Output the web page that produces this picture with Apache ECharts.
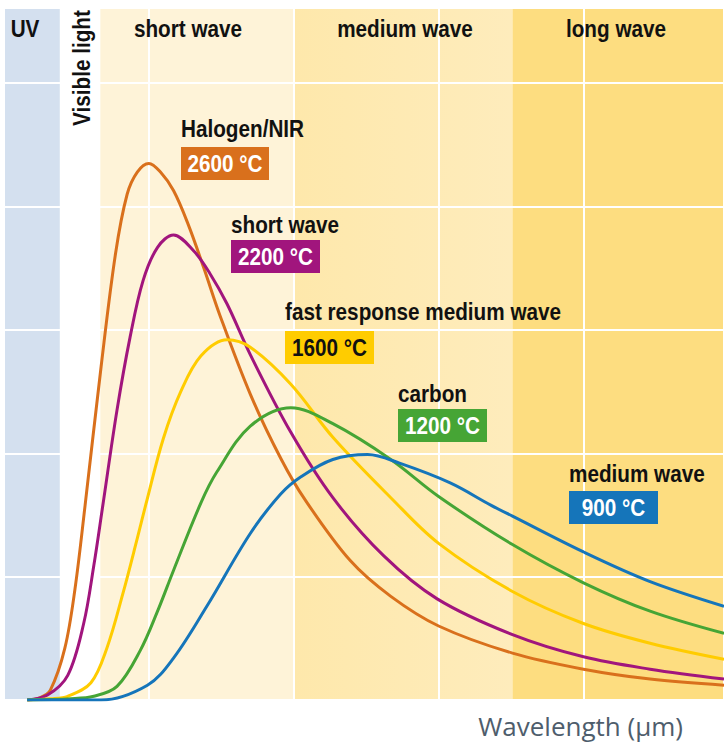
<!DOCTYPE html>
<html>
<head>
<meta charset="utf-8">
<script src="https://cdn.jsdelivr.net/npm/echarts@6.0.0/dist/echarts.min.js"></script>
<style>
html, body { margin: 0; padding: 0; background: #fff; }
#chart { width: 724px; height: 744px; }
</style>
</head>
<body>
<div id="chart"></div>
<script>
// wavelength in µm, relative intensity
var halogen = [[0.16,0],[0.25,0.02],[0.32,0.08],[0.42,0.42],[0.49,0.90],[0.56,1.58],[0.67,2.70],[0.77,3.62],[0.85,4.10],[0.92,4.28],[1.0,4.35],[1.08,4.28],[1.17,4.13],[1.27,3.86],[1.38,3.50],[1.49,3.12],[1.70,2.48],[1.91,1.96],[2.08,1.62],[2.39,1.13],[2.67,0.84],[3.0,0.60],[3.51,0.38],[4.0,0.25],[4.46,0.17],[4.97,0.12]];
var shortWave = [[0.16,0],[0.30,0.04],[0.44,0.20],[0.55,0.62],[0.62,1.09],[0.68,1.56],[0.78,2.35],[0.87,2.94],[0.96,3.40],[1.06,3.67],[1.17,3.77],[1.31,3.64],[1.42,3.46],[1.54,3.21],[1.70,2.80],[1.98,2.17],[2.27,1.64],[2.62,1.17],[2.99,0.82],[3.51,0.53],[4.0,0.35],[4.46,0.25],[4.97,0.17]];
var fastMedium = [[0.16,0],[0.32,0.01],[0.44,0.03],[0.60,0.14],[0.71,0.42],[0.82,0.86],[0.92,1.31],[0.98,1.59],[1.10,2.12],[1.22,2.50],[1.36,2.79],[1.54,2.92],[1.70,2.86],[1.98,2.56],[2.27,2.13],[2.67,1.64],[3.0,1.27],[3.51,0.88],[4.0,0.62],[4.46,0.46],[4.97,0.33]];
var carbon = [[0.16,0],[0.46,0.01],[0.62,0.03],[0.78,0.11],[0.94,0.40],[1.06,0.72],[1.17,1.05],[1.36,1.60],[1.47,1.85],[1.70,2.22],[1.98,2.37],[2.27,2.24],[2.67,1.95],[3.0,1.65],[3.51,1.26],[4.0,0.95],[4.46,0.72],[4.97,0.54]];
var mediumWave = [[0.16,0],[0.67,0],[0.99,0.12],[1.17,0.34],[1.40,0.76],[1.70,1.35],[1.91,1.67],[2.05,1.81],[2.27,1.95],[2.51,1.99],[2.73,1.92],[3.08,1.76],[3.36,1.58],[3.51,1.49],[4.0,1.20],[4.46,0.96],[4.97,0.76]];

var curveNames = ['Halogen/NIR', 'short wave', 'fast response medium wave', 'carbon', 'medium wave'];
var curveTemps = ['2600 °C', '2200 °C', '1600 °C', '1200 °C', '900 °C'];
var curveData = [halogen, shortWave, fastMedium, carbon, mediumWave];

// spectral ranges, µm
var bandNames = ['UV', 'short wave', 'medium wave', 'long wave'];
var bandFrom = [0, 0.665, 2.0, 3.51];
var bandTo = [0.385, 2.0, 3.51, 4.97];

var colors = ['#d9701c', '#a1157d', '#ffcc00', '#46a535', '#1575ba'];
var tagText = ['#fff', '#fff', '#111', '#fff', '#fff'];
var bandColors = [
  '#d4e0ef',
  '#fef3d8',
  {type: 'linear', x: 0, y: 0, x2: 1, y2: 0, colorStops: [{offset: 0, color: '#fee8ab'}, {offset: 1, color: '#feecbc'}]},
  '#fddd80'
];

var FONT = 'bold 23px "Liberation Sans", Arial, sans-serif';
var SQUEEZE = 0.9;

var chart = echarts.init(document.getElementById('chart'), null, {renderer: 'svg'});

var series = [{
  type: 'line',
  data: [],
  z: 1,
  silent: true,
  markArea: {
    silent: true,
    label: {show: false},
    data: bandNames.map(function (n, i) {
      return [{xAxis: bandFrom[i], itemStyle: {color: bandColors[i]}}, {xAxis: bandTo[i]}];
    })
  }
}];
curveData.forEach(function (d, i) {
  series.push({
    name: curveNames[i],
    type: 'line',
    data: d,
    z: 5 + i,
    smooth: 0.35,
    showSymbol: false,
    lineStyle: {color: colors[i], width: 3},
    itemStyle: {color: colors[i]}
  });
});

// annotation layout (pixels)
var headX = [25, 188, 405, 616];
var capX = [181, 231, 285, 398, 569];
var capY = [129, 225, 312, 394, 474];
var boxY = [147, 240, 331, 409, 491];
var boxW = [88, 89, 89, 89, 89];

function txt(x, y, s, fill, align, extra) {
  var el = {
    type: 'text', z: 101, x: x, y: y, scaleX: SQUEEZE,
    style: {text: s, fill: fill, font: FONT, align: align, verticalAlign: 'middle'}
  };
  for (var k in extra) el[k] = extra[k];
  return el;
}

var graphics = [];
bandNames.forEach(function (n, i) {
  graphics.push(txt(headX[i], 29, n, '#111', 'center'));
});
graphics.push(txt(82, 68, 'Visible light', '#111', 'center', {rotation: Math.PI / 2}));
curveNames.forEach(function (n, i) {
  graphics.push(txt(capX[i], capY[i], n, '#111', 'left'));
  graphics.push({
    type: 'rect', z: 100, shape: {x: capX[i], y: boxY[i], width: boxW[i], height: 33},
    style: {fill: colors[i]}
  });
  graphics.push(txt(capX[i] + boxW[i] / 2, boxY[i] + 17, curveTemps[i], tagText[i], 'center'));
});
graphics.push({
  type: 'text', z: 100, x: 683, y: 726,
  style: {text: 'Wavelength (µm)', fill: '#4e5d6c', font: '26px "Open Sans", sans-serif', lineHeight: 30, align: 'right', verticalAlign: 'middle'}
});

var splitStyle = {show: true, lineStyle: {color: '#fff', width: 2}};
chart.setOption({
  animation: false,
  grid: {left: 4, right: 0, top: 8, bottom: 44},
  xAxis: {
    type: 'value', min: 0, max: 4.97, interval: 1, z: 3,
    axisLine: {show: false}, axisTick: {show: false}, axisLabel: {show: false},
    splitLine: splitStyle
  },
  yAxis: {
    type: 'value', min: 0, max: 5.61, interval: 1, z: 3,
    axisLine: {show: false}, axisTick: {show: false}, axisLabel: {show: false},
    splitLine: splitStyle
  },
  series: series,
  graphic: graphics
});
</script>
</body>
</html>
